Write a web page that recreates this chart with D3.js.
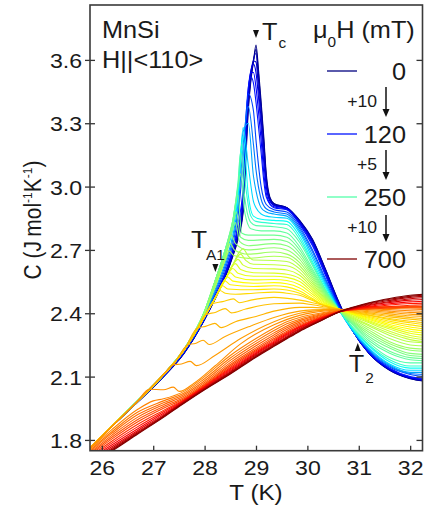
<!DOCTYPE html>
<html>
<head>
<meta charset="utf-8">
<script src="https://cdn.jsdelivr.net/npm/d3@7"></script>
<style>
  body { margin: 0; background: #fff; }
  svg text { font-family: 'Liberation Sans', Arial, sans-serif; fill: #1a1a1a; }
</style>
</head>
<body>
<div class="chart"></div>
<script>
const width = 426;
const height = 505;
const margin = { top: 5, right: 3.5, bottom: 54.3, left: 90 };

const xTicks = [26, 27, 28, 29, 30, 31, 32];
const yTicks = [1.8, 2.1, 2.4, 2.7, 3.0, 3.3, 3.6];

// field of each measured curve (mT)
const fields = [0, 20, 40, 60, 80, 100, 120, 140, 160, 180, 200, 220, 235, 250, 260, 270, 280, 290, 300, 310, 320,
  330, 340, 350, 360, 370, 380, 390, 400, 410, 420, 430, 440, 450, 460, 470, 480, 490, 500, 510, 520,
  530, 540, 560, 580, 600, 620, 640, 660, 680, 700];

// [T (K), C (J/mol K)]
const h0 = [[25.7,1.745],[26.2,1.865],[26.7,1.98],[27.2,2.10],[27.6,2.21],[28.0,2.37],[28.2,2.465],[28.4,2.57],[28.55,2.67],[28.65,2.75],[28.75,2.88],[28.8,3.12],[28.85,3.36],[28.9,3.5],[28.95,3.59],[29.0,3.67],[29.05,3.55],[29.1,3.4],[29.15,3.24],[29.2,3.06],[29.27,2.95],[29.35,2.92],[29.6,2.9],[29.85,2.84],[30.1,2.75],[30.35,2.61],[30.6,2.46],[30.9,2.31],[31.2,2.21],[31.6,2.13],[32.0,2.09],[32.3,2.078]];
const h20 = [[25.7,1.745],[26.2,1.865],[26.7,1.98],[27.2,2.10],[27.6,2.211],[28.0,2.371],[28.2,2.467],[28.4,2.572],[28.55,2.675],[28.65,2.76],[28.75,2.89],[28.8,3.14],[28.85,3.38],[28.9,3.51],[28.95,3.595],[29.0,3.65],[29.05,3.53],[29.1,3.38],[29.15,3.22],[29.2,3.045],[29.27,2.945],[29.35,2.918],[29.6,2.9],[29.85,2.838],[30.1,2.748],[30.35,2.608],[30.6,2.458],[30.9,2.31],[31.2,2.21],[31.6,2.131],[32.0,2.091],[32.3,2.079]];
const h40 = [[25.7,1.745],[26.2,1.865],[26.7,1.98],[27.2,2.10],[27.6,2.212],[28.0,2.372],[28.2,2.47],[28.4,2.575],[28.55,2.68],[28.65,2.77],[28.75,2.9],[28.8,3.16],[28.85,3.4],[28.9,3.52],[28.95,3.6],[29.0,3.63],[29.05,3.5],[29.1,3.36],[29.15,3.2],[29.2,3.03],[29.27,2.94],[29.35,2.915],[29.6,2.9],[29.85,2.835],[30.1,2.745],[30.35,2.605],[30.6,2.455],[30.9,2.31],[31.2,2.21],[31.6,2.132],[32.0,2.092],[32.3,2.08]];
const h60 = [[25.7,1.745],[26.2,1.865],[26.7,1.981],[27.2,2.101],[27.6,2.213],[28.0,2.373],[28.2,2.472],[28.4,2.58],[28.55,2.685],[28.65,2.78],[28.75,2.92],[28.8,3.19],[28.85,3.42],[28.9,3.54],[28.95,3.595],[29.0,3.59],[29.05,3.46],[29.1,3.32],[29.15,3.16],[29.2,3.015],[29.27,2.935],[29.35,2.912],[29.6,2.898],[29.85,2.832],[30.1,2.74],[30.35,2.6],[30.6,2.452],[30.9,2.31],[31.2,2.211],[31.6,2.133],[32.0,2.093],[32.3,2.082]];
const h80 = [[25.7,1.745],[26.2,1.865],[26.7,1.982],[27.2,2.102],[27.6,2.215],[28.0,2.375],[28.2,2.475],[28.4,2.585],[28.55,2.69],[28.65,2.79],[28.75,2.94],[28.8,3.22],[28.85,3.44],[28.9,3.55],[28.95,3.58],[29.0,3.54],[29.05,3.42],[29.1,3.28],[29.15,3.12],[29.2,3.0],[29.27,2.93],[29.35,2.91],[29.6,2.895],[29.85,2.83],[30.1,2.735],[30.35,2.595],[30.6,2.45],[30.9,2.31],[31.2,2.212],[31.6,2.135],[32.0,2.095],[32.3,2.083]];
const h100 = [[25.7,1.745],[26.2,1.865],[26.7,1.982],[27.2,2.103],[27.6,2.216],[28.0,2.376],[28.2,2.477],[28.4,2.59],[28.55,2.70],[28.65,2.805],[28.75,2.97],[28.8,3.26],[28.85,3.46],[28.9,3.54],[28.95,3.54],[29.0,3.47],[29.05,3.35],[29.1,3.22],[29.15,3.07],[29.2,2.97],[29.27,2.92],[29.35,2.905],[29.6,2.892],[29.85,2.825],[30.1,2.728],[30.35,2.588],[30.6,2.445],[30.9,2.31],[31.2,2.213],[31.6,2.137],[32.0,2.097],[32.3,2.086]];
const h120 = [[25.7,1.745],[26.2,1.865],[26.7,1.983],[27.2,2.104],[27.6,2.218],[28.0,2.378],[28.2,2.48],[28.4,2.595],[28.55,2.71],[28.65,2.82],[28.75,3.0],[28.8,3.3],[28.85,3.47],[28.9,3.52],[28.95,3.49],[29.0,3.4],[29.05,3.28],[29.1,3.16],[29.15,3.03],[29.2,2.95],[29.35,2.9],[29.6,2.89],[29.85,2.82],[30.1,2.72],[30.35,2.58],[30.6,2.44],[30.9,2.31],[31.2,2.215],[31.6,2.14],[32.0,2.10],[32.3,2.09]];
const h140 = [[25.7,1.745],[26.2,1.865],[26.7,1.984],[27.2,2.105],[27.6,2.22],[28.0,2.38],[28.2,2.49],[28.4,2.61],[28.55,2.73],[28.65,2.86],[28.75,3.12],[28.85,3.44],[28.95,3.36],[29.0,3.22],[29.1,3.0],[29.2,2.915],[29.35,2.89],[29.6,2.88],[29.85,2.81],[30.1,2.7],[30.35,2.565],[30.6,2.435],[30.9,2.31],[31.2,2.22],[31.6,2.145],[32.0,2.11],[32.3,2.10]];
const h160 = [[25.7,1.745],[26.2,1.865],[26.7,1.985],[27.2,2.106],[27.6,2.222],[28.0,2.385],[28.2,2.5],[28.4,2.625],[28.55,2.75],[28.65,2.89],[28.75,3.2],[28.85,3.38],[28.95,3.2],[29.0,3.08],[29.1,2.94],[29.2,2.895],[29.35,2.88],[29.6,2.87],[29.85,2.8],[30.1,2.69],[30.35,2.555],[30.6,2.43],[30.9,2.31],[31.2,2.225],[31.6,2.15],[32.0,2.115],[32.3,2.11]];
const h180 = [[25.7,1.745],[26.2,1.865],[26.7,1.985],[27.2,2.107],[27.6,2.224],[28.0,2.39],[28.2,2.51],[28.4,2.64],[28.55,2.77],[28.65,2.92],[28.75,3.26],[28.85,3.3],[28.95,3.05],[29.0,2.98],[29.1,2.9],[29.2,2.88],[29.35,2.87],[29.6,2.86],[29.85,2.79],[30.1,2.675],[30.35,2.545],[30.6,2.425],[30.9,2.31],[31.2,2.23],[31.6,2.155],[32.0,2.12],[32.3,2.12]];
const h200 = [[25.7,1.745],[26.2,1.866],[26.7,1.986],[27.2,2.108],[27.6,2.226],[28.0,2.4],[28.2,2.53],[28.4,2.67],[28.55,2.8],[28.65,2.95],[28.75,3.28],[28.85,3.1],[28.95,2.93],[29.0,2.9],[29.1,2.87],[29.2,2.86],[29.35,2.855],[29.6,2.85],[29.85,2.78],[30.1,2.66],[30.35,2.535],[30.6,2.42],[30.9,2.315],[31.2,2.235],[31.6,2.16],[32.0,2.13],[32.3,2.13]];
const h220 = [[25.7,1.745],[26.2,1.866],[26.7,1.986],[27.2,2.109],[27.6,2.228],[28.0,2.405],[28.2,2.545],[28.4,2.69],[28.55,2.82],[28.65,2.97],[28.7,3.12],[28.75,3.24],[28.85,2.96],[28.95,2.86],[29.1,2.845],[29.35,2.84],[29.6,2.835],[29.85,2.765],[30.1,2.645],[30.35,2.525],[30.6,2.42],[30.9,2.32],[31.2,2.245],[31.6,2.17],[32.0,2.14],[32.3,2.14]];
const h235 = [[25.7,1.745],[26.2,1.866],[26.7,1.987],[27.2,2.11],[27.6,2.23],[28.0,2.41],[28.2,2.55],[28.4,2.70],[28.55,2.83],[28.65,3.0],[28.72,3.2],[28.8,3.0],[28.9,2.86],[29.0,2.835],[29.35,2.825],[29.6,2.82],[29.85,2.75],[30.1,2.635],[30.35,2.515],[30.6,2.42],[30.9,2.325],[31.2,2.25],[31.6,2.18],[32.0,2.15],[32.3,2.15]];
const h250 = [[25.7,1.745],[26.2,1.866],[26.7,1.987],[27.2,2.11],[27.6,2.23],[28.0,2.41],[28.2,2.55],[28.4,2.70],[28.55,2.84],[28.65,3.02],[28.7,3.16],[28.78,2.95],[28.9,2.83],[29.0,2.815],[29.35,2.81],[29.6,2.80],[29.85,2.735],[30.1,2.625],[30.35,2.51],[30.6,2.42],[30.9,2.33],[31.2,2.26],[31.6,2.19],[32.0,2.165],[32.3,2.165]];
const h260 = [[25.7,1.745],[26.2,1.866],[26.7,1.987],[27.2,2.11],[27.6,2.23],[28.0,2.41],[28.2,2.55],[28.4,2.70],[28.55,2.84],[28.65,3.0],[28.7,3.06],[28.78,2.88],[28.9,2.8],[29.1,2.79],[29.35,2.79],[29.6,2.78],[29.85,2.715],[30.1,2.61],[30.35,2.505],[30.6,2.42],[30.9,2.34],[31.2,2.27],[31.6,2.21],[32.0,2.18],[32.3,2.175]];
const h270 = [[25.7,1.745],[26.2,1.866],[26.7,1.987],[27.2,2.11],[27.6,2.23],[28.0,2.41],[28.2,2.55],[28.4,2.70],[28.55,2.84],[28.65,2.96],[28.72,2.78],[28.85,2.77],[29.35,2.77],[29.6,2.76],[29.85,2.70],[30.1,2.60],[30.35,2.50],[30.6,2.42],[30.9,2.345],[31.2,2.28],[31.6,2.22],[32.0,2.19],[32.3,2.185]];
const h280 = [[25.7,1.745],[26.2,1.866],[26.7,1.987],[27.2,2.11],[27.6,2.229],[28.0,2.41],[28.2,2.55],[28.4,2.69],[28.55,2.82],[28.62,2.88],[28.7,2.76],[28.85,2.745],[29.35,2.75],[29.6,2.74],[29.85,2.685],[30.1,2.59],[30.35,2.495],[30.6,2.42],[30.9,2.35],[31.2,2.29],[31.6,2.235],[32.0,2.2],[32.3,2.195]];
const h290 = [[25.7,1.745],[26.2,1.866],[26.7,1.987],[27.2,2.11],[27.6,2.229],[28.0,2.41],[28.2,2.55],[28.4,2.68],[28.55,2.80],[28.6,2.83],[28.68,2.74],[28.85,2.72],[29.35,2.73],[29.6,2.72],[29.85,2.67],[30.1,2.58],[30.35,2.49],[30.6,2.42],[30.9,2.355],[31.2,2.30],[31.6,2.245],[32.0,2.21],[32.3,2.205]];
const h300 = [[25.7,1.745],[26.2,1.866],[26.7,1.986],[27.2,2.109],[27.6,2.228],[28.0,2.405],[28.2,2.54],[28.4,2.67],[28.52,2.77],[28.6,2.73],[28.85,2.70],[29.35,2.71],[29.6,2.70],[29.85,2.655],[30.1,2.57],[30.35,2.485],[30.6,2.42],[30.9,2.36],[31.2,2.31],[31.6,2.255],[32.0,2.225],[32.3,2.22]];
const h310 = [[25.7,1.745],[26.2,1.866],[26.7,1.986],[27.2,2.109],[27.6,2.227],[28.0,2.40],[28.2,2.53],[28.4,2.66],[28.5,2.73],[28.58,2.70],[28.85,2.68],[29.35,2.69],[29.6,2.68],[29.85,2.64],[30.1,2.56],[30.35,2.48],[30.6,2.42],[30.9,2.365],[31.2,2.32],[31.6,2.265],[32.0,2.235],[32.3,2.23]];
const h320 = [[25.7,1.745],[26.2,1.866],[26.7,1.986],[27.2,2.108],[27.6,2.226],[28.0,2.40],[28.2,2.52],[28.4,2.65],[28.48,2.695],[28.56,2.675],[28.85,2.66],[29.35,2.67],[29.6,2.665],[29.85,2.625],[30.1,2.55],[30.35,2.475],[30.6,2.42],[30.9,2.37],[31.2,2.33],[31.6,2.28],[32.0,2.25],[32.3,2.245]];
const h330 = [[25.7,1.745],[26.2,1.865],[26.7,1.985],[27.2,2.108],[27.6,2.225],[28.0,2.385],[28.2,2.47],[28.4,2.56],[28.55,2.63],[28.65,2.68],[28.75,2.705],[28.85,2.67],[28.95,2.652],[29.35,2.65],[29.6,2.645],[29.85,2.61],[30.1,2.54],[30.35,2.47],[30.6,2.42],[30.9,2.375],[31.2,2.34],[31.6,2.295],[32.0,2.265],[32.3,2.26]];
const h340 = [[25.7,1.745],[26.2,1.865],[26.7,1.985],[27.2,2.108],[27.6,2.225],[28.0,2.385],[28.2,2.47],[28.4,2.56],[28.55,2.63],[28.7,2.68],[28.8,2.65],[28.95,2.632],[29.35,2.63],[29.6,2.625],[29.85,2.595],[30.1,2.53],[30.35,2.465],[30.6,2.42],[30.9,2.38],[31.2,2.345],[31.6,2.305],[32.0,2.275],[32.3,2.265]];
const h350 = [[25.7,1.745],[26.2,1.865],[26.7,1.985],[27.2,2.108],[27.6,2.225],[28.0,2.385],[28.2,2.47],[28.4,2.56],[28.55,2.63],[28.65,2.655],[28.75,2.628],[28.95,2.612],[29.35,2.61],[29.6,2.605],[29.85,2.58],[30.1,2.52],[30.35,2.46],[30.6,2.42],[30.9,2.385],[31.2,2.355],[31.6,2.315],[32.0,2.285],[32.3,2.275]];
const h360 = [[25.7,1.745],[26.2,1.865],[26.7,1.985],[27.2,2.108],[27.6,2.225],[28.0,2.385],[28.2,2.47],[28.4,2.56],[28.6,2.635],[28.7,2.607],[28.95,2.592],[29.35,2.59],[29.6,2.585],[29.85,2.565],[30.1,2.51],[30.35,2.455],[30.6,2.42],[30.9,2.39],[31.2,2.36],[31.6,2.325],[32.0,2.295],[32.3,2.285]];
const h370 = [[25.7,1.745],[26.2,1.865],[26.7,1.985],[27.2,2.108],[27.6,2.225],[28.0,2.385],[28.2,2.47],[28.4,2.56],[28.55,2.612],[28.65,2.59],[28.95,2.575],[29.35,2.575],[29.6,2.57],[29.85,2.55],[30.1,2.50],[30.35,2.45],[30.6,2.42],[30.9,2.393],[31.2,2.365],[31.6,2.333],[32.0,2.305],[32.3,2.295]];
const h380 = [[25.7,1.745],[26.2,1.865],[26.7,1.985],[27.2,2.108],[27.6,2.225],[28.0,2.385],[28.2,2.47],[28.4,2.56],[28.5,2.592],[28.6,2.572],[28.95,2.558],[29.35,2.56],[29.6,2.555],[29.85,2.535],[30.1,2.49],[30.35,2.445],[30.6,2.42],[30.9,2.396],[31.2,2.37],[31.6,2.34],[32.0,2.315],[32.3,2.305]];
const h390 = [[25.7,1.745],[26.2,1.865],[26.7,1.985],[27.2,2.108],[27.6,2.225],[28.0,2.385],[28.2,2.47],[28.45,2.572],[28.55,2.552],[28.95,2.542],[29.35,2.545],[29.6,2.54],[29.85,2.52],[30.1,2.48],[30.35,2.44],[30.6,2.42],[30.9,2.398],[31.2,2.375],[31.6,2.347],[32.0,2.325],[32.3,2.315]];
const h400 = [[25.7,1.745],[26.2,1.865],[26.7,1.985],[27.2,2.108],[27.6,2.225],[28.0,2.385],[28.2,2.47],[28.4,2.553],[28.5,2.535],[28.95,2.527],[29.35,2.53],[29.6,2.525],[29.85,2.505],[30.1,2.47],[30.35,2.435],[30.6,2.42],[30.9,2.40],[31.2,2.38],[31.6,2.355],[32.0,2.335],[32.3,2.325]];
const h410 = [[25.7,1.745],[26.2,1.865],[26.7,1.985],[27.2,2.108],[27.6,2.225],[28.0,2.385],[28.2,2.47],[28.35,2.53],[28.45,2.515],[28.95,2.511],[29.35,2.515],[29.6,2.51],[29.85,2.495],[30.1,2.465],[30.35,2.435],[30.6,2.42],[30.9,2.402],[31.2,2.385],[31.6,2.362],[32.0,2.345],[32.3,2.335]];
const h420 = [[25.7,1.745],[26.2,1.865],[26.7,1.985],[27.2,2.108],[27.6,2.225],[28.0,2.385],[28.2,2.47],[28.3,2.508],[28.4,2.495],[28.6,2.49],[28.95,2.495],[29.35,2.50],[29.6,2.495],[29.85,2.485],[30.1,2.46],[30.35,2.435],[30.6,2.42],[30.9,2.404],[31.2,2.39],[31.6,2.37],[32.0,2.355],[32.3,2.345]];
const h430 = [[25.7,1.745],[26.2,1.865],[26.7,1.985],[27.2,2.11],[27.6,2.225],[28.0,2.385],[28.15,2.445],[28.35,2.455],[28.56,2.468],[28.68,2.45],[28.9,2.462],[29.35,2.475],[29.85,2.462],[30.1,2.45],[30.35,2.435],[30.6,2.42],[30.9,2.405],[31.2,2.392],[31.6,2.375],[32.0,2.362],[32.3,2.355]];
const h440 = [[25.7,1.745],[26.2,1.865],[26.7,1.985],[27.2,2.11],[27.6,2.225],[27.8,2.30],[28.02,2.393],[28.22,2.405],[28.4,2.422],[28.52,2.402],[28.8,2.42],[29.35,2.445],[29.85,2.448],[30.1,2.44],[30.35,2.43],[30.6,2.42],[30.9,2.408],[31.2,2.397],[31.6,2.383],[32.0,2.372],[32.3,2.365]];
const h450 = [[25.7,1.745],[26.2,1.865],[26.7,1.985],[27.2,2.11],[27.6,2.225],[27.86,2.33],[28.02,2.338],[28.2,2.352],[28.32,2.332],[28.6,2.36],[29.0,2.385],[29.35,2.41],[29.85,2.428],[30.1,2.428],[30.35,2.424],[30.6,2.42],[30.9,2.411],[31.2,2.402],[31.6,2.39],[32.0,2.38],[32.3,2.375]];
const h460 = [[25.7,1.745],[26.2,1.865],[26.7,1.985],[27.2,2.11],[27.4,2.16],[27.67,2.25],[27.82,2.257],[27.97,2.272],[28.09,2.252],[28.4,2.29],[28.9,2.34],[29.35,2.38],[29.85,2.41],[30.1,2.416],[30.35,2.418],[30.6,2.418],[30.9,2.414],[31.2,2.407],[31.6,2.397],[32.0,2.388],[32.3,2.385]];
const h470 = [[25.7,1.745],[26.2,1.865],[26.7,1.985],[27.0,2.06],[27.2,2.11],[27.38,2.155],[27.55,2.16],[27.72,2.172],[27.84,2.152],[28.2,2.2],[28.7,2.28],[29.35,2.36],[29.85,2.4],[30.1,2.41],[30.35,2.415],[30.6,2.417],[30.9,2.417],[31.2,2.412],[31.6,2.404],[32.0,2.396],[32.3,2.393]];
const h480 = [[25.7,1.745],[26.2,1.865],[26.7,1.985],[26.92,2.04],[27.2,2.038],[27.39,2.05],[27.51,2.03],[27.8,2.07],[28.2,2.15],[28.7,2.255],[29.35,2.345],[29.85,2.39],[30.1,2.403],[30.35,2.411],[30.6,2.416],[30.9,2.419],[31.2,2.417],[31.6,2.41],[32.0,2.404],[32.3,2.401]];
const h490 = [[25.7,1.74],[26.2,1.85],[26.7,1.945],[27.0,1.985],[27.2,1.995],[27.6,2.03],[28.0,2.1],[28.5,2.2],[29.0,2.28],[29.35,2.33],[29.6,2.36],[29.85,2.38],[30.1,2.394],[30.35,2.405],[30.6,2.414],[30.9,2.421],[31.2,2.421],[31.6,2.417],[32.0,2.412],[32.3,2.409]];
const h500 = [[25.7,1.735],[26.2,1.84],[26.7,1.932],[27.2,1.985],[27.6,2.022],[28.0,2.09],[28.5,2.188],[29.0,2.268],[29.35,2.318],[29.6,2.35],[29.85,2.372],[30.1,2.388],[30.35,2.401],[30.6,2.412],[30.9,2.423],[31.2,2.425],[31.6,2.423],[32.0,2.42],[32.3,2.418]];
const h510 = [[25.7,1.73],[26.2,1.832],[26.7,1.92],[27.2,1.976],[27.6,2.015],[28.0,2.08],[28.5,2.177],[29.0,2.257],[29.35,2.307],[29.6,2.34],[29.85,2.365],[30.1,2.383],[30.35,2.398],[30.6,2.41],[30.9,2.424],[31.2,2.428],[31.6,2.428],[32.0,2.426],[32.3,2.424]];
const h520 = [[25.7,1.725],[26.2,1.823],[26.7,1.908],[27.2,1.967],[27.6,2.008],[28.0,2.072],[28.5,2.166],[29.0,2.246],[29.35,2.297],[29.6,2.331],[29.85,2.358],[30.1,2.378],[30.35,2.395],[30.6,2.409],[30.9,2.424],[31.2,2.43],[31.6,2.431],[32.0,2.43],[32.3,2.428]];
const h530 = [[25.7,1.72],[26.2,1.814],[26.7,1.897],[27.2,1.958],[27.6,2.001],[28.0,2.065],[28.5,2.157],[29.0,2.236],[29.35,2.288],[29.6,2.323],[29.85,2.351],[30.1,2.373],[30.35,2.392],[30.6,2.408],[30.9,2.42],[31.2,2.424],[31.6,2.428],[32.0,2.43],[32.3,2.43]];
const h540 = [[25.7,1.715],[26.2,1.805],[26.7,1.886],[27.2,1.95],[27.6,1.995],[28.0,2.06],[28.5,2.15],[29.0,2.228],[29.35,2.28],[29.6,2.315],[29.85,2.345],[30.1,2.368],[30.35,2.389],[30.6,2.407],[30.9,2.416],[31.2,2.42],[31.6,2.425],[32.0,2.43],[32.3,2.432]];
const h560 = [[25.7,1.709],[26.2,1.795],[26.7,1.874],[27.2,1.94],[27.6,1.991],[28.0,2.056],[28.5,2.143],[29.0,2.222],[29.35,2.274],[29.6,2.309],[29.85,2.34],[30.1,2.364],[30.35,2.387],[30.6,2.406],[30.9,2.418],[31.2,2.425],[31.6,2.432],[32.0,2.438],[32.3,2.44]];
const h580 = [[25.7,1.703],[26.2,1.786],[26.7,1.863],[27.2,1.933],[27.6,1.988],[28.0,2.053],[28.5,2.137],[29.0,2.217],[29.35,2.268],[29.6,2.304],[29.85,2.336],[30.1,2.361],[30.35,2.385],[30.6,2.406],[30.9,2.42],[31.2,2.429],[31.6,2.439],[32.0,2.446],[32.3,2.448]];
const h600 = [[25.7,1.698],[26.2,1.777],[26.7,1.853],[27.2,1.926],[27.6,1.985],[28.0,2.05],[28.5,2.132],[29.0,2.212],[29.35,2.263],[29.6,2.299],[29.85,2.332],[30.1,2.358],[30.35,2.383],[30.6,2.405],[30.9,2.421],[31.2,2.433],[31.6,2.445],[32.0,2.454],[32.3,2.457]];
const h620 = [[25.7,1.693],[26.2,1.769],[26.7,1.845],[27.2,1.92],[27.6,1.982],[28.0,2.047],[28.5,2.127],[29.0,2.207],[29.35,2.258],[29.6,2.294],[29.85,2.328],[30.1,2.355],[30.35,2.381],[30.6,2.405],[30.9,2.423],[31.2,2.437],[31.6,2.451],[32.0,2.462],[32.3,2.466]];
const h640 = [[25.7,1.688],[26.2,1.762],[26.7,1.839],[27.2,1.915],[27.6,1.98],[28.0,2.044],[28.5,2.122],[29.0,2.202],[29.35,2.253],[29.6,2.289],[29.85,2.324],[30.1,2.352],[30.35,2.379],[30.6,2.405],[30.9,2.425],[31.2,2.44],[31.6,2.456],[32.0,2.469],[32.3,2.474]];
const h660 = [[25.7,1.684],[26.2,1.756],[26.7,1.834],[27.2,1.912],[27.6,1.978],[28.0,2.042],[28.5,2.118],[29.0,2.198],[29.35,2.249],[29.6,2.285],[29.85,2.32],[30.1,2.349],[30.35,2.377],[30.6,2.405],[30.9,2.426],[31.2,2.444],[31.6,2.461],[32.0,2.475],[32.3,2.481]];
const h680 = [[25.7,1.681],[26.2,1.752],[26.7,1.831],[27.2,1.91],[27.6,1.976],[28.0,2.04],[28.5,2.115],[29.0,2.195],[29.35,2.246],[29.6,2.282],[29.85,2.317],[30.1,2.347],[30.35,2.376],[30.6,2.405],[30.9,2.428],[31.2,2.447],[31.6,2.466],[32.0,2.48],[32.3,2.486]];
const h700 = [[25.7,1.678],[26.2,1.748],[26.7,1.828],[27.2,1.907],[27.6,1.974],[28.0,2.038],[28.5,2.112],[29.0,2.192],[29.35,2.243],[29.6,2.279],[29.85,2.314],[30.1,2.345],[30.35,2.375],[30.6,2.405],[30.9,2.43],[31.2,2.45],[31.6,2.47],[32.0,2.485],[32.3,2.49]];

const curves = [h0, h20, h40, h60, h80, h100, h120, h140, h160, h180, h200, h220, h235, h250, h260, h270, h280, h290,
  h300, h310, h320, h330, h340, h350, h360, h370, h380, h390, h400, h410, h420, h430, h440, h450, h460, h470,
  h480, h490, h500, h510, h520, h530, h540, h560, h580, h600, h620, h640, h660, h680, h700];

const legendFields = [0, 120, 250, 700];
const legendSteps = ['+10', '+5', '+10'];

// where the markers sit (K)
const tcT = 29.0, ta1T = 28.2, t2T = 31.0;

const xScale = d3.scaleLinear()
  .domain([25.77, 32.24])
  .range([margin.left, width - margin.right]);

const yScale = d3.scaleLinear()
  .domain([1.749, 3.86])
  .range([height - margin.bottom, margin.top]);

// colour runs along the 84 measured fields (steps 10, 5, 10 mT)
function fieldIndex(h) {
  if (h <= 120) return h / 10;
  if (h <= 250) return 12 + (h - 120) / 5;
  return 38 + (h - 250) / 10;
}
const jet = d3.scaleLinear()
  .domain([0, 0.125, 0.375, 0.625, 0.875, 1])
  .range(['#00007f', '#0000ff', '#00ffff', '#ffff00', '#ff0000', '#7f0000']);
const color = h => jet(fieldIndex(h) / 83);

const svg = d3.select('.chart').append('svg')
  .attr('width', width)
  .attr('height', height);

const plotW = width - margin.left - margin.right;
const plotH = height - margin.top - margin.bottom;

svg.append('clipPath').attr('id', 'plot')
  .append('rect')
  .attr('x', margin.left).attr('y', margin.top)
  .attr('width', plotW).attr('height', plotH);

const line = d3.line()
  .x(d => xScale(d[0]))
  .y(d => yScale(d[1]))
  .curve(d3.curveMonotoneX);

svg.append('g')
  .attr('clip-path', 'url(#plot)')
  .selectAll('path')
  .data(curves)
  .join('path')
  .attr('d', line)
  .attr('fill', 'none')
  .attr('stroke', (d, i) => color(fields[i]))
  .attr('stroke-width', 1.1);

// axes: ticks drawn inside the frame, labels stretched a little like the original
const sx = 1.1;

const xAxis = svg.append('g')
  .attr('transform', `translate(0, ${height - margin.bottom})`)
  .call(d3.axisBottom(xScale).tickValues(xTicks).tickSizeInner(-5).tickSizeOuter(0).tickFormat(d3.format('d')));
xAxis.select('.domain').remove();
xAxis.selectAll('.tick line').attr('stroke', '#333').attr('stroke-width', 1.3);
xAxis.selectAll('.tick text')
  .attr('y', 9.5).attr('dy', '0.71em')
  .attr('transform', `scale(${sx},1)`)
  .style('font-size', '21px');

const yAxis = svg.append('g')
  .attr('transform', `translate(${margin.left}, 0)`)
  .call(d3.axisLeft(yScale).tickValues(yTicks).tickSize(6).tickFormat(d3.format('.1f')));
yAxis.select('.domain').remove();
yAxis.selectAll('.tick line').attr('x1', -5).attr('x2', 5).attr('stroke', '#333').attr('stroke-width', 1.3);
yAxis.selectAll('.tick text')
  .attr('x', -8 / sx).attr('dy', '0.36em')
  .attr('transform', `scale(${sx},1)`)
  .style('font-size', '21px');

const yAxisR = svg.append('g')
  .attr('transform', `translate(${width - margin.right}, 0)`)
  .call(d3.axisRight(yScale).tickValues(yTicks).tickSize(-6).tickFormat(''));
yAxisR.select('.domain').remove();
yAxisR.selectAll('.tick line').attr('stroke', '#333').attr('stroke-width', 1.3);

svg.append('rect')
  .attr('x', margin.left).attr('y', margin.top)
  .attr('width', plotW).attr('height', plotH)
  .attr('fill', 'none')
  .attr('stroke', '#3a3a3a')
  .attr('stroke-width', 1.6);

function label(x, y, size, anchor) {
  return svg.append('text')
    .attr('transform', `translate(${x},${y}) scale(${sx},1)`)
    .attr('text-anchor', anchor || 'start')
    .style('font-size', size + 'px');
}

// axis titles
label(256, 500, 22, 'middle').text('T (K)');

const yt = svg.append('text')
  .attr('transform', `translate(41,220) rotate(-90) scale(1,${sx})`)
  .attr('text-anchor', 'middle')
  .style('font-size', '21px');
yt.append('tspan').text('C (J\u2009mol');
yt.append('tspan').attr('dy', -8).style('font-size', '12px').text('-1');
yt.append('tspan').attr('dy', 8).text('K');
yt.append('tspan').attr('dy', -8).style('font-size', '12px').text('-1');
yt.append('tspan').attr('dy', 8).text(')');

// sample labels
label(102, 38, 23).text('MnSi');
label(102, 68, 23).text('H||<110>');

// transition markers
function marker(x, tipY, down) {
  const s = down ? 1 : -1;
  svg.append('path')
    .attr('d', `M${x - 3},${tipY - s * 8}L${x + 3},${tipY - s * 8}L${x},${tipY}Z`)
    .attr('fill', '#111');
}
marker(xScale(tcT), 38, true);
const tc = label(xScale(tcT) + 6, 40, 23);
tc.append('tspan').text('T');
tc.append('tspan').attr('dy', 8).attr('dx', 1).style('font-size', '14px').text('c');

marker(xScale(ta1T) + 0.5, 272, true);
const ta = label(xScale(ta1T) - 24, 248, 24);
ta.append('tspan').text('T');
ta.append('tspan').attr('dy', 12).attr('dx', -1).style('font-size', '14px').text('A1');

marker(xScale(t2T) - 1, 343, false);
const t2 = label(xScale(t2T) - 10, 372, 23);
t2.append('tspan').text('T');
t2.append('tspan').attr('dy', 11).attr('dx', 1).style('font-size', '14px').text('2');

// legend
const legendY = [71, 134, 197, 259];
const stepY = [101, 164, 227];
const arrowY = [[87, 117], [150, 180], [215, 242]];

const title = label(313, 38, 23);
title.append('tspan').text('\u03bc');
title.append('tspan').attr('dy', 9).style('font-size', '14px').text('0');
title.append('tspan').attr('dy', -9).text('H (mT)');

legendFields.forEach((h, i) => {
  svg.append('line')
    .attr('x1', 327).attr('x2', 357)
    .attr('y1', legendY[i]).attr('y2', legendY[i])
    .attr('stroke', color(h))
    .attr('stroke-width', 1.3);
  label(406, legendY[i] + 8.5, 23, 'end').text(h);
});

legendSteps.forEach((s, i) => {
  label(377, stepY[i] + 6, 16, 'end').text(s);
  const [a, b] = arrowY[i];
  svg.append('line')
    .attr('x1', 386).attr('x2', 386)
    .attr('y1', a).attr('y2', b - 6)
    .attr('stroke', '#111').attr('stroke-width', 1.5);
  svg.append('path')
    .attr('d', `M382.5,${b - 8}L389.5,${b - 8}L386,${b}Z`)
    .attr('fill', '#111');
});
</script>
</body>
</html>
